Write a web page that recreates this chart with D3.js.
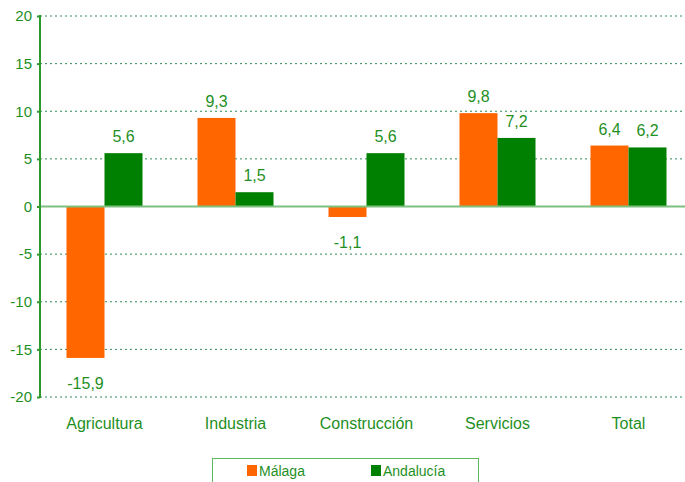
<!DOCTYPE html>
<html>
<head>
<meta charset="utf-8">
<script src="https://cdn.jsdelivr.net/npm/d3@7"></script>
<style>
  body { margin: 0; background: #fff; }
  text { font-family: "Liberation Sans", Arial, sans-serif; fill: #1f8f1f; }
</style>
</head>
<body>
<div id="chart"></div>
<script>
var categories = ["Agricultura", "Industria", "Construcción", "Servicios", "Total"];
var malaga = [-15.9, 9.3, -1.1, 9.8, 6.4];
var andalucia = [5.6, 1.5, 5.6, 7.2, 6.2];
var seriesNames = ["Málaga", "Andalucía"];
var seriesColors = ["#ff6600", "#008000"];
var yTicks = [-20, -15, -10, -5, 0, 5, 10, 15, 20];

var w = 685, h = 482;
var margin = {left: 40, right: 0, top: 16, bottom: 85};

var svg = d3.select("#chart").append("svg")
  .attr("width", w).attr("height", h);

var x = d3.scaleBand().domain(categories)
  .range([39, 694]);
var x1 = d3.scaleBand().domain(seriesNames)
  .range([0, 76]);
var y = d3.scaleLinear().domain([-20, 20])
  .range([397, margin.top]);

function fmt(v) { return d3.format(".1f")(v).replace(".", ",").replace("\u2212", "-"); }

// gridlines
svg.selectAll("line.grid").data(yTicks.filter(function(d) { return d != 0; }))
  .enter().append("line")
  .attr("class", "grid")
  .attr("x1", margin.left).attr("x2", w)
  .attr("y1", function(d) { return y(d); })
  .attr("y2", function(d) { return y(d); })
  .attr("stroke", "#2e8b57")
  .attr("stroke-width", 1)
  .attr("stroke-dasharray", "2,3");

var data = [];
categories.forEach(function(c, i) {
  data.push({cat: c, s: seriesNames[0], v: malaga[i], color: seriesColors[0]});
  data.push({cat: c, s: seriesNames[1], v: andalucia[i], color: seriesColors[1]});
});

var off = (x.bandwidth() - 76) / 2;

svg.selectAll("rect.bar").data(data).enter().append("rect")
  .attr("class", "bar")
  .attr("x", function(d) { return x(d.cat) + off + x1(d.s); })
  .attr("width", x1.bandwidth())
  .attr("y", function(d) { return y(Math.max(0, d.v)); })
  .attr("height", function(d) { return Math.abs(y(d.v) - y(0)); })
  .attr("fill", function(d) { return d.color; });

// zero line
svg.append("line")
  .attr("x1", margin.left).attr("x2", w)
  .attr("y1", y(0)).attr("y2", y(0))
  .attr("stroke", "#7fbf7f").attr("stroke-width", 2);

// axis
var axis = svg.append("g")
  .attr("transform", "translate(" + margin.left + ",0)")
  .call(d3.axisLeft(y).tickValues(yTicks).tickSize(4).tickPadding(4)
    .tickFormat(function(d) { return String(d); }));
axis.select(".domain").attr("stroke", "#2e9a2e").attr("stroke-width", 2)
  .attr("d", "M0," + (y(20) - 1) + "V" + (y(-20) + 1));
axis.selectAll(".tick line").attr("stroke", "#2e9a2e").attr("stroke-width", 2)
  .attr("x1", 0).attr("x2", -3);
axis.selectAll(".tick text").style("font-size", "15px").attr("fill", "#1f8f1f")
  .style("font-family", "'Liberation Sans', Arial, sans-serif");

// value labels
svg.selectAll("text.val").data(data).enter().append("text")
  .attr("class", "val")
  .attr("x", function(d) { return x(d.cat) + off + x1(d.s) + x1.bandwidth() / 2; })
  .attr("y", function(d) { return d.v >= 0 ? y(d.v) - 11 : y(d.v) + 31; })
  .attr("text-anchor", "middle")
  .style("font-size", "16px")
  .text(function(d) { return fmt(d.v); });

// category labels
svg.selectAll("text.cat").data(categories).enter().append("text")
  .attr("class", "cat")
  .attr("x", function(d) { return x(d) + x.bandwidth() / 2; })
  .attr("y", 429)
  .attr("text-anchor", "middle")
  .style("font-size", "16px")
  .text(function(d) { return d; });

// legend
var lg = svg.append("g");
lg.append("rect")
  .attr("x", 212.5).attr("y", 458.5).attr("width", 266).attr("height", 40)
  .attr("fill", "none").attr("stroke", "#5cb85c").attr("stroke-width", 1);
var lgX = [247, 371];
seriesNames.forEach(function(s, i) {
  lg.append("rect").attr("x", lgX[i]).attr("y", 465).attr("width", 10).attr("height", 11)
    .attr("fill", seriesColors[i]);
  lg.append("text").attr("x", lgX[i] + 12).attr("y", 476)
    .style("font-size", "14px").text(s);
});
</script>
</body>
</html>
